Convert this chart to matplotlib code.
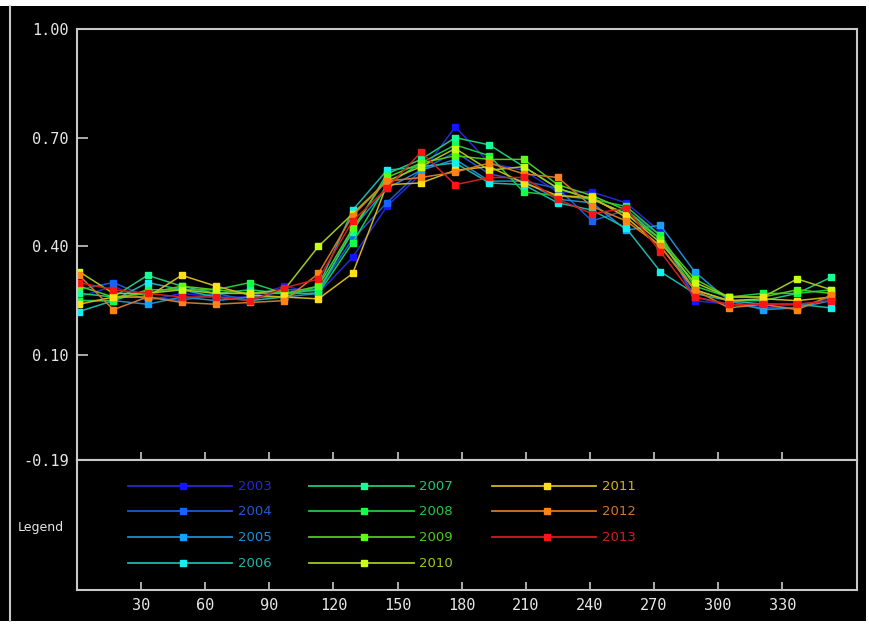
import matplotlib
matplotlib.use('Agg')
import matplotlib.pyplot as plt
from matplotlib.patches import Rectangle
from matplotlib.lines import Line2D

# day of year (16-day composites)
days = [1, 17, 33, 49, 65, 81, 97, 113, 129, 145, 161, 177,
        193, 209, 225, 241, 257, 273, 289, 305, 321, 337, 353]

years = ['2003', '2004', '2005', '2006', '2007', '2008',
         '2009', '2010', '2011', '2012', '2013']

v2003 = [0.26, 0.29, 0.25, 0.27, 0.26, 0.26, 0.29, 0.27, 0.37, 0.51, 0.60, 0.73,
         0.63, 0.61, 0.55, 0.55, 0.52, 0.44, 0.25, 0.24, 0.23, 0.24, 0.25]
v2004 = [0.28, 0.30, 0.26, 0.25, 0.27, 0.25, 0.28, 0.28, 0.42, 0.52, 0.61, 0.66,
         0.60, 0.58, 0.56, 0.47, 0.50, 0.43, 0.26, 0.24, 0.23, 0.23, 0.26]
v2005 = [0.25, 0.25, 0.24, 0.26, 0.25, 0.26, 0.26, 0.27, 0.45, 0.56, 0.61, 0.64,
         0.58, 0.58, 0.53, 0.52, 0.445, 0.458, 0.33, 0.25, 0.225, 0.23, 0.25]
v2006 = [0.22, 0.25, 0.30, 0.28, 0.26, 0.25, 0.26, 0.29, 0.50, 0.61, 0.62, 0.63,
         0.575, 0.57, 0.52, 0.50, 0.45, 0.33, 0.27, 0.25, 0.24, 0.24, 0.23]
v2007 = [0.27, 0.26, 0.32, 0.29, 0.27, 0.28, 0.27, 0.28, 0.44, 0.60, 0.64, 0.70,
         0.68, 0.62, 0.56, 0.53, 0.49, 0.42, 0.28, 0.25, 0.25, 0.27, 0.315]
v2008 = [0.25, 0.25, 0.28, 0.28, 0.28, 0.30, 0.27, 0.27, 0.41, 0.57, 0.63, 0.68,
         0.65, 0.55, 0.54, 0.53, 0.51, 0.43, 0.29, 0.26, 0.27, 0.27, 0.28]
v2009 = [0.29, 0.26, 0.27, 0.29, 0.28, 0.27, 0.27, 0.29, 0.45, 0.59, 0.63, 0.65,
         0.64, 0.64, 0.57, 0.54, 0.50, 0.42, 0.31, 0.26, 0.26, 0.28, 0.27]
v2010 = [0.33, 0.27, 0.27, 0.28, 0.27, 0.27, 0.28, 0.40, 0.49, 0.58, 0.62, 0.67,
         0.61, 0.62, 0.56, 0.53, 0.49, 0.41, 0.30, 0.26, 0.26, 0.31, 0.28]
v2011 = [0.24, 0.26, 0.26, 0.32, 0.29, 0.265, 0.26, 0.255, 0.325, 0.57, 0.575, 0.61,
         0.62, 0.575, 0.54, 0.535, 0.48, 0.40, 0.28, 0.25, 0.255, 0.25, 0.26]
v2012 = [0.32, 0.225, 0.26, 0.245, 0.24, 0.245, 0.25, 0.325, 0.485, 0.58, 0.59, 0.605,
         0.63, 0.60, 0.59, 0.51, 0.47, 0.40, 0.28, 0.23, 0.24, 0.225, 0.265]
v2013 = [0.30, 0.28, 0.27, 0.26, 0.26, 0.25, 0.285, 0.31, 0.47, 0.56, 0.66, 0.57,
         0.59, 0.59, 0.53, 0.49, 0.505, 0.385, 0.26, 0.24, 0.24, 0.24, 0.25]
series = [v2003, v2004, v2005, v2006, v2007, v2008,
          v2009, v2010, v2011, v2012, v2013]

yticks = [1.00, 0.70, 0.40, 0.10, -0.19]
ytick_labels = ['1.00', '0.70', '0.40', '0.10', '-0.19']
xticks = [30, 60, 90, 120, 150, 180, 210, 240, 270, 300, 330]

marker_colors = ['#1414ff', '#1464ff', '#14a0ff', '#14f0f0', '#14ff96', '#14ff46',
                 '#5aff14', '#c8ff14', '#ffe014', '#ff8214', '#ff1414']
line_colors = ['#2828d2', '#1e5ad2', '#1e8cd2', '#1eb4aa', '#1ec878', '#1ec846',
               '#50c81e', '#a0c81e', '#d2b41e', '#d27828', '#d21e1e']

W, H = 870, 625
fig = plt.figure(figsize=(W / 100, H / 100), dpi=100, facecolor='black')

def fx(px): return px / W
def fy(py): return 1 - py / H

grey = '#c8c8c8'

# outer frame bits
fig.patches.append(Rectangle((0, fy(6)), 1, 6 / H, transform=fig.transFigure,
                             facecolor='white', edgecolor='none'))
fig.patches.append(Rectangle((fx(866), 0), 4 / W, 1, transform=fig.transFigure,
                             facecolor='white', edgecolor='none'))
fig.patches.append(Rectangle((0, 0), 1, 4 / H, transform=fig.transFigure,
                             facecolor='white', edgecolor='none'))
fig.lines.append(Line2D([fx(10), fx(10)], [fy(621), fy(6)], transform=fig.transFigure,
                        color=grey, lw=1.5))

# main plot area
ax = fig.add_axes([fx(77), fy(460), fx(857) - fx(77), fy(29) - fy(460)])
ax.set_facecolor('black')
for d, mc, lc in zip(series, marker_colors, line_colors):
    ax.plot(days, d, color=lc, lw=1.1, marker='s', ms=4.5,
            markerfacecolor=mc, markeredgecolor=mc)
ax.set_xlim(0, 365)
ax.set_ylim(-0.19, 1.00)
ax.set_yticks(yticks)
ax.set_yticklabels(ytick_labels, family='DejaVu Sans Mono', fontsize=11, color='#e6e6e6')
ax.set_xticks(xticks)
ax.set_xticklabels([])
ax.tick_params(axis='y', direction='in', length=8, width=1.2, color=grey, pad=6)
ax.tick_params(axis='x', direction='in', length=6, width=1.2, color=grey)
for s in ax.spines.values():
    s.set_color(grey)
    s.set_linewidth(1.5)

# legend panel
lax = fig.add_axes([fx(77), fy(590), fx(857) - fx(77), fy(460) - fy(590)])
lax.set_facecolor('black')
lax.set_xlim(0, 365)
lax.set_ylim(0, 1)
lax.set_yticks([])
lax.set_xticks(xticks)
lax.set_xticklabels([str(t) for t in xticks], family='DejaVu Sans Mono',
                    fontsize=11, color='#e6e6e6')
lax.tick_params(axis='x', direction='in', length=6, width=1.2, color=grey, pad=6)
for s in lax.spines.values():
    s.set_color(grey)
    s.set_linewidth(1.5)

rows = [0.80, 0.605, 0.405, 0.205]
col_x = [0.065, 0.298, 0.532]
for i, (yr, mc, lc) in enumerate(zip(years, marker_colors, line_colors)):
    c, r = divmod(i, 4)
    x0 = col_x[c]
    yy = rows[r]
    lax.plot([x0, x0 + 0.134], [yy, yy], color=lc, lw=1.3, transform=lax.transAxes)
    lax.plot([x0 + 0.0705], [yy], marker='s', ms=5, color=mc, transform=lax.transAxes)
    lax.text(x0 + 0.141, yy, yr, color=lc, fontsize=9.5, va='center', ha='left',
             transform=lax.transAxes)

fig.text(fx(18), fy(528), 'Legend', color='#e6e6e6', fontsize=9, va='center', ha='left')

fig.savefig('out.png', dpi=100, facecolor=fig.get_facecolor())
